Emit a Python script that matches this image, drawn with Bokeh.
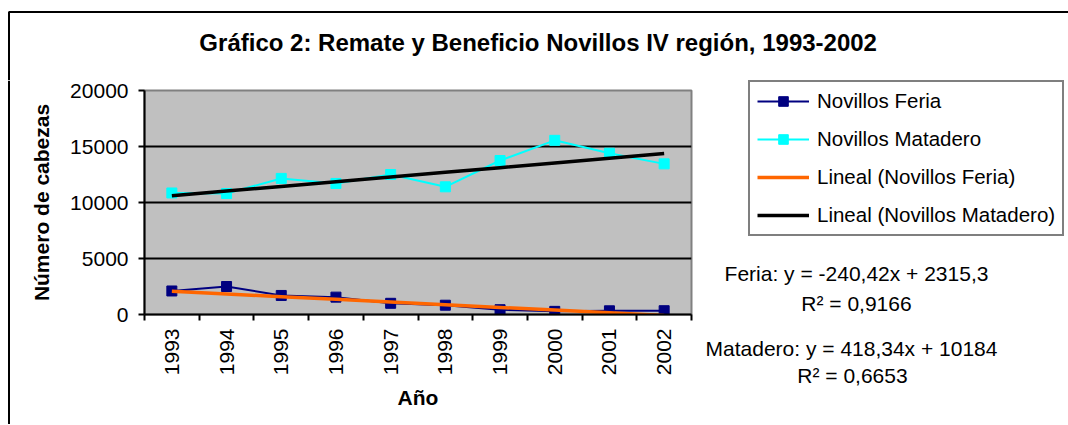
import math
import numpy as np
from bokeh.plotting import figure
from bokeh.layouts import column, row
from bokeh.models import Range1d, FixedTicker, Legend, LegendItem, Label
from bokeh.embed import file_html
from bokeh.resources import INLINE

# ---- data ----
years = [1993, 1994, 1995, 1996, 1997, 1998, 1999, 2000, 2001, 2002]
feria = [2100, 2500, 1700, 1550, 1000, 830, 430, 280, 330, 340]
matadero = [10850, 10800, 12150, 11700, 12500, 11400, 13750, 15550, 14400, 13450]
y_ticks = [0, 5000, 10000, 15000, 20000]
# trend line coefficients as printed on the chart (x = 1..10)
feria_slope, feria_intercept = -240.42, 2315.3
matadero_slope, matadero_intercept = 418.34, 10184

title_text = "Gráfico 2: Remate  y Beneficio Novillos IV región, 1993-2002"
eq_feria = "Feria: y = -240,42x + 2315,3"
r2_feria = "R² = 0,9166"
eq_matadero = "Matadero: y = 418,34x + 10184"
r2_matadero = "R² = 0,6653"

FONT = "Liberation Sans"
W, H = 1068, 424
TOP_H = 80

FERIA_C, MATADERO_C = "#000080", "#00FFFF"
FERIA_T, MATADERO_T = "#FF6600", "black"


def blank(width, height, x0, x1, y0, y1):
    f = figure(width=width, height=height, x_range=Range1d(x0, x1), y_range=Range1d(y0, y1),
               output_backend="svg", toolbar_location=None, min_border=0,
               x_axis_location=None, y_axis_location=None, frame_align=False,
               background_fill_color="white", border_fill_color="white")
    f.outline_line_color = None
    f.grid.visible = False
    return f


# ---- top strip: title and chart border ----
top = blank(W, TOP_H, 0, W, TOP_H, 0)
top.line([8.5, 8.5, W], [TOP_H, 11.5, 11.5], line_color="black", line_width=2)
top.add_layout(Label(x=541, y=42, text=title_text, text_font=FONT, text_font_style="bold",
                     text_font_size="24px", text_align="center", text_baseline="middle",
                     text_color="black"))

# ---- left strip: chart border ----
left = blank(10, H - TOP_H, 0, 10, H, TOP_H)
left.line([8.5, 8.5], [TOP_H, H], line_color="black", line_width=2)

# ---- main plot ----
x_idx = np.array(years) - years[0] + 1
feria_fit = feria_slope * x_idx + feria_intercept
matadero_fit = matadero_slope * x_idx + matadero_intercept

p = figure(frame_width=547, frame_height=224,
           min_border_left=134, min_border_right=2,
           min_border_top=10, min_border_bottom=H - TOP_H - 234,
           x_range=Range1d(years[0] - 0.5, years[-1] + 0.5),
           y_range=Range1d(y_ticks[0], y_ticks[-1]), frame_align=False,
           output_backend="svg", toolbar_location=None,
           background_fill_color="#C0C0C0", border_fill_color="white")
p.outline_line_color = "#808080"
p.outline_line_width = 2

xa = p.xaxis[0]
xa.ticker = FixedTicker(ticks=years, minor_ticks=[y - 0.5 for y in years] + [years[-1] + 0.5])
xa.major_tick_line_color = None
xa.minor_tick_line_color = "black"
xa.minor_tick_line_width = 2
xa.minor_tick_out = 6
xa.minor_tick_in = 0
xa.axis_line_color = "black"
xa.axis_line_width = 2
xa.major_label_orientation = math.pi / 2
xa.major_label_text_font = FONT
xa.major_label_text_font_size = "21px"
xa.major_label_text_color = "black"
xa.major_label_standoff = 8
xa.axis_label = "Año"
xa.axis_label_text_font = FONT
xa.axis_label_text_font_style = "bold"
xa.axis_label_text_font_size = "21px"
xa.axis_label_text_color = "black"
xa.axis_label_standoff = 8

ya = p.yaxis[0]
ya.ticker = FixedTicker(ticks=y_ticks)
ya.major_tick_line_color = "black"
ya.major_tick_line_width = 2
ya.major_tick_out = 6
ya.major_tick_in = 0
ya.minor_tick_line_color = None
ya.axis_line_color = "black"
ya.axis_line_width = 2
ya.major_label_text_font = FONT
ya.major_label_text_font_size = "21px"
ya.major_label_text_color = "black"
ya.major_label_standoff = 10
ya.axis_label = "Número de cabezas"
ya.axis_label_text_font = FONT
ya.axis_label_text_font_style = "bold"
ya.axis_label_text_font_size = "21px"
ya.axis_label_text_color = "black"
ya.axis_label_standoff = 14

p.xgrid.visible = False
p.ygrid.ticker = FixedTicker(ticks=y_ticks[1:-1])
p.ygrid.grid_line_color = "black"
p.ygrid.grid_line_width = 2

p.line(years, feria, line_color=FERIA_C, line_width=2)
p.scatter(years, feria, marker="square", size=10, fill_color=FERIA_C, line_color=FERIA_C)
p.line(years, matadero, line_color=MATADERO_C, line_width=2)
p.scatter(years, matadero, marker="square", size=10, fill_color=MATADERO_C, line_color=MATADERO_C)
p.line(years, feria_fit, line_color=FERIA_T, line_width=3.5)
p.line(years, matadero_fit, line_color=MATADERO_T, line_width=3.5)

# ---- right strip: legend and trend equations ----
SIDE_X0 = 693
side = blank(W - SIDE_X0, H - TOP_H, SIDE_X0, W, H, TOP_H)

# hidden copies of the series in the legend's own plot, used only for the legend swatches
gf_l = side.line(years, feria, line_color=FERIA_C, line_width=2, visible=False)
gf_s = side.scatter(years, feria, marker="square", size=10, fill_color=FERIA_C,
                    line_color=FERIA_C, visible=False)
gm_l = side.line(years, matadero, line_color=MATADERO_C, line_width=2, visible=False)
gm_s = side.scatter(years, matadero, marker="square", size=10, fill_color=MATADERO_C,
                    line_color=MATADERO_C, visible=False)
gtf = side.line(years, feria_fit, line_color=FERIA_T, line_width=3.5, visible=False)
gtm = side.line(years, matadero_fit, line_color=MATADERO_T, line_width=3.5, visible=False)

legend = Legend(items=[
    LegendItem(label="Novillos Feria", renderers=[gf_l, gf_s]),
    LegendItem(label="Novillos Matadero", renderers=[gm_l, gm_s]),
    LegendItem(label="Lineal (Novillos Feria)", renderers=[gtf]),
    LegendItem(label="Lineal (Novillos Matadero)", renderers=[gtm]),
], location=(748 - SIDE_X0, H - 236), border_line_color="black", border_line_width=2,
   background_fill_color="white", background_fill_alpha=1.0,
   label_text_font=FONT, label_text_font_size="20.5px", label_text_color="black",
   glyph_width=52, glyph_height=24, label_height=24, label_standoff=8,
   spacing=14, padding=7, margin=0, click_policy="none")
side.add_layout(legend)

for txt, xx, yy in [(eq_feria, 856, 273), (r2_feria, 856, 303),
                    (eq_matadero, 851, 348), (r2_matadero, 852, 375)]:
    side.add_layout(Label(x=xx, y=yy, text=txt, text_font=FONT, text_font_size="21px",
                          text_align="center", text_baseline="middle", text_color="black"))

layout = column(top, row(left, p, side))
open("out.html", "w").write(file_html(layout, INLINE))
